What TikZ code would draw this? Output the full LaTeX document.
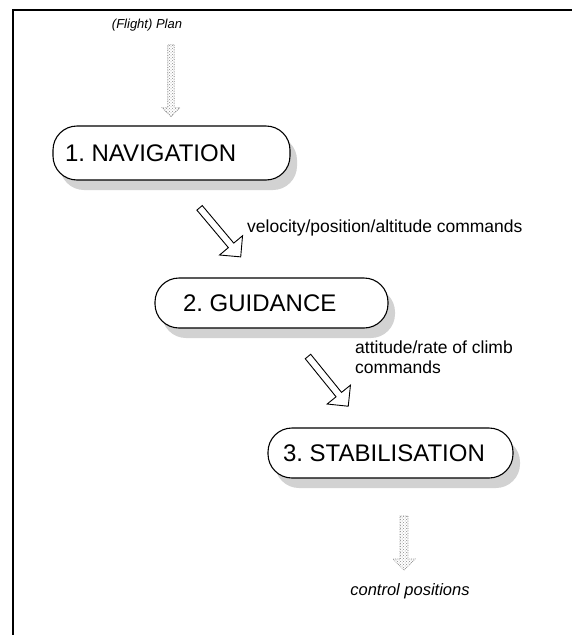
\documentclass[tikz,border=0pt]{standalone}
\usepackage{fontspec}
\setmainfont{Liberation Sans}
\frenchspacing
\usetikzlibrary{shapes.arrows,shadows,patterns}
\begin{document}
\begin{tikzpicture}[x=1pt,y=-1pt,
  stagebox/.style={draw, line width=1.1pt, rounded corners=24pt, fill=white,
    font=\fontsize{24}{24}\selectfont, inner xsep=0pt, inner ysep=0pt,
    drop shadow={shadow xshift=7pt, shadow yshift=-10pt, fill=gray!35, opacity=1}},
  lbl/.style={font=\fontsize{17.5}{19.5}\selectfont, anchor=west, inner sep=0pt, align=left},
  ilbl/.style={font=\fontsize{13}{15}\selectfont\itshape, inner sep=0pt},
  hollowarrow/.style={single arrow, draw, line width=0.9pt, fill=white,
    minimum height=64pt, minimum width=30pt, single arrow head extend=8pt,
    single arrow head indent=0pt, inner sep=2pt, single arrow tip angle=90},
  dotarrow/.style={single arrow, draw=gray!90, densely dotted, line width=0.7pt,
    pattern=crosshatch dots, pattern color=gray!90,
    single arrow head extend=4pt, inner sep=2pt, single arrow tip angle=90, rotate=-90},
  frameline/.style={line width=1.2pt}
]
\useasboundingbox (0,0) rectangle (572,635);

% frame
\coordinate (ftr) at (572,10);
\coordinate (ftl) at (13,10);
\coordinate (fbl) at (13,635);
\draw[frameline] (ftr) -- (ftl) -- (fbl);

% stages
\node[stagebox, minimum width=237pt, minimum height=54pt] (nav) at (171.5,153) {\makebox[213pt][l]{1. NAVIGATION}};
\node[stagebox, minimum width=233pt, minimum height=50pt] (gui) at (271.5,303) {\makebox[177pt][l]{2. GUIDANCE}};
\node[stagebox, minimum width=245pt, minimum height=50pt] (sta) at (390.5,453) {\makebox[215pt][l]{3. STABILISATION}};

% inputs / outputs
\node[ilbl] (plan) at (147,25) {(Flight) Plan};
\node[dotarrow, minimum height=72pt, minimum width=18pt] (a0) at (171,79) {};
\node[dotarrow, minimum height=54pt, minimum width=22pt] (a3) at (404,541) {};
\node[ilbl, font=\fontsize{16.5}{18}\selectfont\itshape] (ctrl) at (410,591) {control positions};

% diagonal block arrows
\node[hollowarrow, rotate=-50] (a1) at (219,231) {};
\node[hollowarrow, rotate=-51] (a2) at (327,380) {};

\node[lbl] (l1) at (247,228) {velocity/position/altitude commands};
\node[lbl] (l2) at (355,357) {attitude/rate of climb\\commands};
\end{tikzpicture}
\end{document}
